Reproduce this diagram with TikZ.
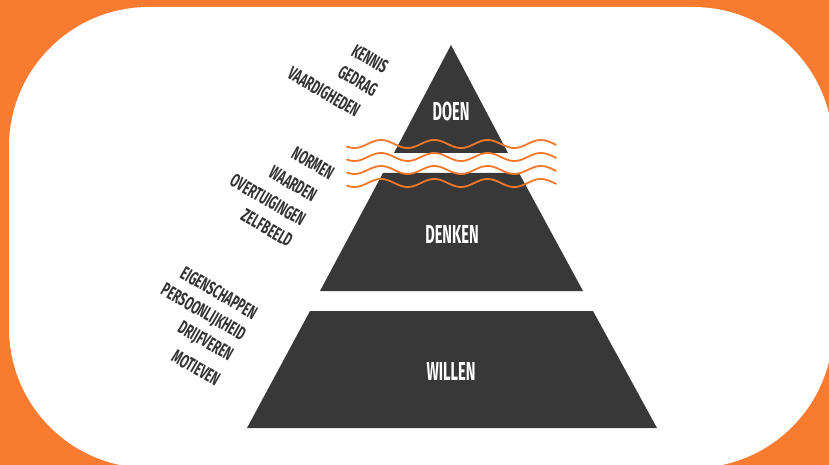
\documentclass[tikz,border=0pt]{standalone}
\usepackage{fontspec}
\newfontfamily\bebas{Fira Sans}[FakeStretch=0.56]
\newfontfamily\bebassm{Fira Sans}[FakeStretch=0.6]
\definecolor{bgorange}{HTML}{F97B30}
\definecolor{waveorange}{HTML}{F5782A}
\definecolor{pyr}{HTML}{383838}
\definecolor{lbl}{HTML}{333333}
\begin{document}
\begin{tikzpicture}[x=1pt,y=-1pt,
  tier/.style={fill=pyr},
  tierlabel/.style={text=white,font=\bebas\bfseries\fontsize{26}{26}\selectfont,inner sep=0pt},
  sidelabel/.style={text=lbl,font=\bebassm\bfseries\fontsize{19}{19}\selectfont,inner sep=0pt,rotate=-30},
  wave/.style={draw=waveorange,line width=1.8pt,line cap=round}]
\useasboundingbox (0,0) rectangle (829,465);
\fill[bgorange] (0,0) rectangle (829,465);
\begin{scope}
\clip (0,0) rectangle (829,465);
\fill[white,rounded corners=140pt] (9,7) rectangle (833,468);
\end{scope}
% pyramid tiers
\fill[tier] (451,45) -- (508,153) -- (394,153) -- cycle;
\fill[tier] (383,173) -- (519,173) -- (583,291) -- (320,291) -- cycle;
\fill[tier] (310,311) -- (593,311) -- (657,428) -- (247,428) -- cycle;
% waves
\foreach \c in {144,157,170,183}{
  \draw[wave] plot[domain=-34:175,samples=160,smooth] ({381+\x},{\c-4*cos(6.754*\x)});
}
% tier labels
\node[tierlabel] (doen) at (451,111) {DOEN};
\node[tierlabel] (denken) at (452,234) {DENKEN};
\node[tierlabel] (willen) at (451,371) {WILLEN};
% side labels
\node[sidelabel] (kennis) at (370,59) {KENNIS};
\node[sidelabel] (gedrag) at (358,81) {GEDRAG};
\node[sidelabel] (vaard) at (324,92) {VAARDIGHEDEN};
\node[sidelabel] (normen) at (313,163) {NORMEN};
\node[sidelabel] (waarden) at (293,184) {WAARDEN};
\node[sidelabel] (overt) at (268,200) {OVERTUIGINGEN};
\node[sidelabel] (zelf) at (267,228) {ZELFBEELD};
\node[sidelabel] (eigen) at (219,293) {EIGENSCHAPPEN};
\node[sidelabel] (pers) at (203,313) {PERSOONLIJKHEID};
\node[sidelabel] (drijf) at (205,342) {DRIJFVEREN};
\node[sidelabel] (motief) at (196,368) {MOTIEVEN};
\end{tikzpicture}
\end{document}
